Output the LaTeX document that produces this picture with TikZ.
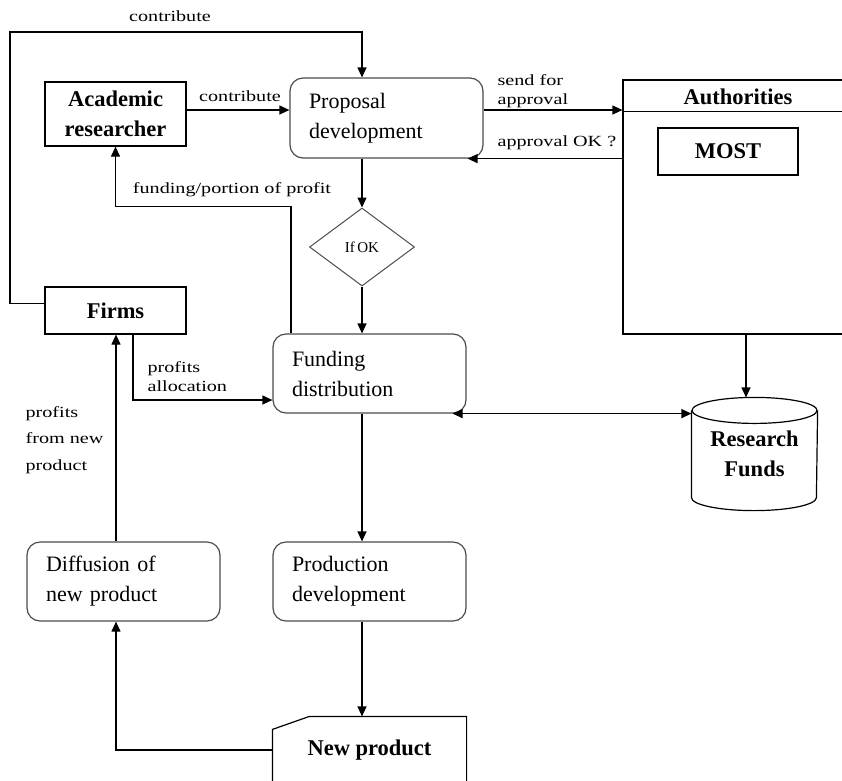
\documentclass[tikz,border=0pt]{standalone}
\usepackage{fontspec}
\setmainfont{Liberation Serif}
\newfontfamily\lblfont{Liberation Serif}[FakeStretch=1.3]
\usetikzlibrary{arrows.meta,shapes.geometric}

\begin{document}
\begin{tikzpicture}[x=1pt,y=-1pt,line width=1.2pt,
  txt/.style={font=\fontsize{22}{30}\selectfont},
  bld/.style={font=\bfseries\fontsize{22.5}{30}\selectfont},
  lbl/.style={font=\lblfont\fontsize{15.5}{19}\selectfont,inner sep=0pt},
  sqbox/.style={draw,bld,align=center,minimum width=141pt,inner sep=2pt},
  rbox/.style={draw=black!70,txt,rounded corners=13pt,align=left,text width=155pt,
    inner xsep=19pt,minimum height=79pt},
  arr/.style={-{Triangle[length=10pt,width=9pt]}},
  darr/.style={{Triangle[length=10pt,width=9pt]}-{Triangle[length=10pt,width=9pt]}}]

\useasboundingbox (0,0) rectangle (842,780);
\clip (0,0) rectangle (842,780);

%boxes
\node[sqbox,minimum height=64pt] (acad) at (115.5,114) {Academic\\researcher};
\node[sqbox,minimum height=47pt] (firms) at (115.5,310.5) {Firms};
\node[rbox,minimum height=80pt] (prop) at (386.5,118) {Proposal\\development};
\node[diamond,draw=black!70,line width=1pt,minimum width=105pt,minimum height=78pt,
  inner sep=0pt,font=\fontsize{15}{16}\selectfont] (ifok) at (362,247) {If\,OK};
\node[rbox] (fund) at (369.5,373.5) {Funding\\distribution};
\node[rbox] (diff) at (123.5,581.5) {Diffusion of\\new product};
\node[rbox] (prod) at (369.5,581.5) {Production\\development};

%authorities
\node[draw,minimum width=227pt,minimum height=254pt] (auth) at (736.5,207) {};
\draw ([yshift=-32pt]auth.north west) -- ([yshift=-32pt]auth.north east);
\node[bld] (authttl) at (738,97) {Authorities};
\node[sqbox,minimum width=140pt,minimum height=47pt] (most) at (728,151.5) {MOST};

%research funds
\node[bld,align=center,minimum width=125pt,minimum height=112pt,inner sep=0pt] (funds)
  at (754.5,454) {Research\\Funds};
\draw ([yshift=-13pt]funds.north west) -- ([yshift=13pt]funds.south west)
  arc[start angle=180,end angle=0,x radius=62.5,y radius=13]
  -- ([yshift=-13pt]funds.north east);
\draw ([yshift=-13pt]funds.north) ellipse [x radius=62.5,y radius=13];

%new product
\node[bld,minimum width=193pt,minimum height=66pt,inner sep=0pt] (newp) at (369.5,750) {New product};
\draw (newp.south west) -- ([yshift=-13pt]newp.north west) -- ([xshift=37pt]newp.north west)
  -- (newp.north east) -- (newp.south east);

%connectors
\coordinate (ctop) at (10,32);
\draw[arr] ([yshift=7pt]firms.west) -| (ctop) -| (ifok |- prop.north);
\node[lbl] (lcontr1) at (170,16) {contribute};

\draw[arr] ([yshift=4pt]acad.east) -- ([yshift=4pt]acad.east -| prop.west);
\node[lbl] (lcontr2) at (240,96) {contribute};

\draw[arr] ([yshift=8pt]prop.east) -- ([yshift=8pt]prop.east -| auth.west);
\node[lbl,anchor=west,align=left] (lsend) at (497,91) {send for\\approval};

\draw[arr] (auth.west |- prop.south) -- ([xshift=-16pt]prop.south east);
\node[lbl,anchor=west] (lok) at (497,143) {approval OK ?};

\draw[arr] (ifok |- prop.south) -- (ifok.north);
\draw[arr] (ifok.south) -- (ifok |- fund.north);

\draw[arr] ([xshift=-78.5pt]fund.north) -- ++(0,-127) -| (acad.south);
\node[lbl] (lfund) at (232,190) {funding/portion of profit};

\draw[arr] ([xshift=17.5pt]firms.south) |- ([yshift=-26.5pt]fund.west);
\node[lbl,anchor=west,align=left] (lalloc) at (147,377) {profits\\allocation};

\draw[darr] ([xshift=-14pt]fund.south east) -- (funds.west |- fund.south east);
\draw[arr] ([xshift=9.5pt]auth.south) -- ([xshift=9.5pt]auth.south |- funds.north);

\draw[arr] (ifok |- fund.south) -- (ifok |- prod.north);
\draw[arr] (ifok |- prod.south) -- (ifok |- newp.north);

\draw[arr] (newp.west) -| ([xshift=-7.5pt]diff.south);
\draw[arr] ([xshift=-7.5pt]diff.north) -- ([xshift=-7.5pt]diff.north |- firms.south);
\node[lbl,anchor=west,align=left,font=\lblfont\fontsize{15.5}{26.5}\selectfont] (lprof) at (25,440)
  {profits\\from new\\product};

\end{tikzpicture}
\end{document}
